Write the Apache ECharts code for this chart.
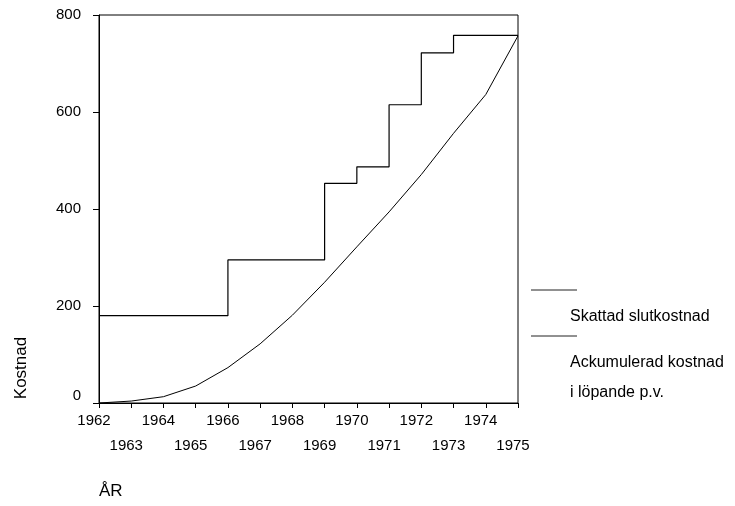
<!DOCTYPE html>
<html>
<head>
<meta charset="utf-8">
<script src="https://cdn.jsdelivr.net/npm/echarts@6/dist/echarts.min.js"></script>
<style>html,body{margin:0;padding:0;background:#fff}#c{width:735px;height:506px}</style>
</head>
<body>
<div id="c"></div>
<script>
// Estimated final cost (step series): change years and levels
const stepYears = [1962, 1966, 1969, 1970, 1971, 1972, 1973, 1975];
const stepValues = [180, 295, 453, 487, 615, 722, 758, 758];
// Accumulated cost in current prices
const cumYears = [1962, 1963, 1964, 1965, 1966, 1967, 1968, 1969, 1970, 1971, 1972, 1973, 1974, 1975];
const cumValues = [0, 4, 13, 35, 73, 122, 181, 249, 322, 394, 471, 556, 636, 757];
const yTicks = [0, 200, 400, 600, 800];
const xMin = 1962, xMax = 1975;
const seriesNames = ['Skattad slutkostnad', 'Ackumulerad kostnad'];
const legendLines = ['Skattad slutkostnad', 'Ackumulerad kostnad', 'i löpande p.v.'];
const yName = 'Kostnad';
const xName = 'ÅR';

const FONT = 'Liberation Sans, Arial, sans-serif';
const labelRich = { a: { fontFamily: FONT, fontSize: 15, color: '#000', padding: [0, 10, 0, 0] } };
function xAxisDef(parity, margin, showLine) {
  return {
    type: 'value', min: xMin, max: xMax, interval: 1, position: 'bottom',
    axisLine: { show: showLine, lineStyle: { color: '#000', width: 1 } },
    axisTick: { show: showLine, length: 5, lineStyle: { color: '#000' } },
    splitLine: { show: false },
    axisLabel: {
      color: '#000', fontFamily: FONT, fontSize: 15, margin: margin,
      showMinLabel: true, showMaxLabel: true, hideOverlap: false,
      formatter: v => ((v - xMin) % 2 === parity ? '{a|' + v + '}' : ''),
      rich: labelRich
    }
  };
}
const chart = echarts.init(document.getElementById('c'));
chart.setOption({
  animation: false,
  backgroundColor: '#fff',
  grid: { left: 99, right: 217, top: 15, bottom: 103, show: true, borderColor: '#000', borderWidth: 1 },
  xAxis: [xAxisDef(0, 10, true), xAxisDef(1, 35, false)],
  yAxis: {
    type: 'value', min: yTicks[0], max: yTicks[yTicks.length - 1], interval: 200,
    axisLine: { show: true, lineStyle: { color: '#000', width: 1 } },
    axisTick: { show: true, length: 6, lineStyle: { color: '#000' } },
    splitLine: { show: false },
    axisLabel: {
      color: '#000', fontFamily: FONT, fontSize: 15, margin: 18,
      showMinLabel: true, showMaxLabel: true,
      formatter: v => (v === 0 ? '{z|0}' : String(v)),
      rich: { z: { fontFamily: FONT, fontSize: 15, color: '#000', padding: [0, 0, 14, 0] } }
    }
  },
  series: [
    {
      name: seriesNames[0], type: 'line', step: 'end', showSymbol: false, xAxisIndex: 0,
      lineStyle: { color: '#000', width: 1.2 },
      data: stepYears.map((y, i) => [y, stepValues[i]])
    },
    {
      name: seriesNames[1], type: 'line', showSymbol: false, smooth: false, xAxisIndex: 0,
      lineStyle: { color: '#000', width: 1 },
      data: cumYears.map((y, i) => [y, cumValues[i]])
    }
  ],
  graphic: [
    { type: 'line', shape: { x1: 531, y1: 290, x2: 577, y2: 290 }, style: { stroke: '#222', lineWidth: 1 } },
    { type: 'line', shape: { x1: 531, y1: 336, x2: 577, y2: 336 }, style: { stroke: '#222', lineWidth: 1 } },
    { type: 'text', x: 570, y: 317, style: { text: legendLines[0], font: '16px ' + FONT, fill: '#000', verticalAlign: 'middle' } },
    { type: 'text', x: 570, y: 363, style: { text: legendLines[1], font: '16px ' + FONT, fill: '#000', verticalAlign: 'middle' } },
    { type: 'text', x: 570, y: 393, style: { text: legendLines[2], font: '16px ' + FONT, fill: '#000', verticalAlign: 'middle' } },
    { type: 'text', x: 21, y: 368, rotation: Math.PI / 2, style: { text: yName, font: '17px ' + FONT, fill: '#000', align: 'center', verticalAlign: 'middle' } },
    { type: 'text', x: 99, y: 491, style: { text: xName, font: '17px ' + FONT, fill: '#000', verticalAlign: 'middle' } }
  ]
});
</script>
</body>
</html>
